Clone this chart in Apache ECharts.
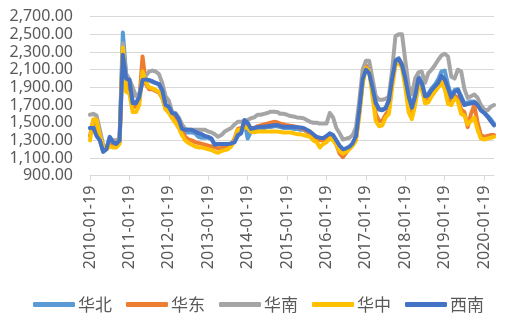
<!DOCTYPE html>
<html>
<head>
<meta charset="utf-8">
<script src="https://cdn.jsdelivr.net/npm/echarts@6/dist/echarts.min.js"></script>
<style>
html,body{margin:0;padding:0;background:#fff;}
#chart{width:512px;height:326px;}
</style>
</head>
<body>
<div id="chart"></div>
<script>
// Series names / legend
const seriesNames = ['华北', '华东', '华南', '华中', '西南'];
const seriesColors = ['#5B9BD5', '#ED7D31', '#A5A5A5', '#FFC000', '#4472C4'];

// Monthly categories 2010-01-19 .. 2020-04-19
const categories = [];
for (let y = 2010; y <= 2020; y++) {
  for (let m = 1; m <= 12; m++) {
    if (y === 2020 && m > 4) break;
    categories.push(y + '-' + String(m).padStart(2, '0') + '-19');
  }
}

// y axis
const yMin = 900, yMax = 2700, yStep = 200;

const huabei = [
  1440, 1460, 1380, 1300, 1180, 1200, 1330, 1290, 1260, 1300, 2520, 2050,
  1980, 1740, 1720, 1790, 1980, 1990, 1980, 1960, 1950, 1930, 1860, 1700,
  1670, 1600, 1590, 1540, 1420, 1390, 1390, 1390, 1380, 1340, 1330, 1330,
  1330, 1310, 1250, 1260, 1250, 1250, 1255, 1260, 1280, 1350, 1380, 1520,
  1320, 1400, 1420, 1430, 1440, 1440, 1450, 1450, 1460, 1460, 1450, 1440,
  1440, 1440, 1430, 1430, 1420, 1420, 1400, 1390, 1360, 1330, 1320, 1310,
  1340, 1370, 1350, 1290, 1230, 1190, 1200, 1220, 1260, 1340, 1640, 1980,
  2110, 2070, 1910, 1730, 1660, 1650, 1670, 1760, 2010, 2210, 2230, 2160,
  2010, 1810, 1680, 1820, 2020, 1970, 1810, 1830, 1890, 1930, 1990, 2080,
  2090, 1930, 1800, 1870, 1880, 1800, 1720, 1730, 1740, 1740, 1710, 1650,
  1620, 1580, 1540, 1490
];
const huadong = [
  1350, 1520, 1500, 1350, 1230, 1220, 1260, 1250, 1240, 1280, 2300, 1900,
  1880, 1680, 1680, 1750, 2250, 1940, 1880, 1880, 1860, 1840, 1780, 1660,
  1640, 1580, 1530, 1470, 1400, 1340, 1310, 1300, 1280, 1270, 1260, 1250,
  1240, 1230, 1220, 1210, 1210, 1220, 1230, 1250, 1320, 1430, 1440, 1460,
  1470, 1440, 1440, 1460, 1470, 1480, 1490, 1500, 1510, 1505, 1490, 1480,
  1470, 1465, 1460, 1450, 1440, 1430, 1400, 1380, 1340, 1320, 1300, 1300,
  1330, 1360, 1350, 1250, 1150, 1110, 1160, 1220, 1260, 1330, 1620, 1960,
  2150, 2110, 1850, 1600, 1520, 1520, 1590, 1640, 1950, 2180, 2220, 2160,
  1950, 1680, 1580, 1760, 1960, 1910, 1760, 1760, 1840, 1880, 1930, 1990,
  1920, 1780, 1740, 1810, 1780, 1650, 1620, 1450, 1600, 1700, 1500, 1360,
  1340, 1350, 1360, 1360
];
const huanan = [
  1590, 1600, 1580, 1420, 1250, 1200, 1300, 1300, 1300, 1320, 2400, 2050,
  1990, 1900, 1800, 1830, 1960, 2030, 2080, 2090, 2080, 2050, 1950, 1800,
  1750, 1620, 1610, 1560, 1480, 1430, 1420, 1420, 1420, 1420, 1420, 1420,
  1400, 1390, 1370, 1340, 1360, 1400, 1420, 1440, 1480, 1510, 1510, 1520,
  1530, 1550, 1560, 1590, 1590, 1600, 1610, 1625, 1625, 1620, 1600, 1600,
  1590, 1575, 1570, 1560, 1555, 1550, 1530, 1510, 1500, 1500, 1490, 1490,
  1490, 1610, 1560, 1440, 1380, 1310, 1320, 1330, 1360, 1450, 1750, 2100,
  2200, 2200, 2000, 1800, 1760, 1760, 1770, 1800, 2100, 2480, 2500, 2500,
  2200, 1920, 1820, 2000, 2070, 2080, 1950, 2060, 2100, 2150, 2210, 2260,
  2280, 2250, 2020, 2000, 2100, 2080, 1880, 1780, 1800, 1820, 1780, 1700,
  1650, 1640, 1680, 1700
];
const huazhong = [
  1300, 1540, 1530, 1350, 1230, 1200, 1230, 1220, 1220, 1260, 2350, 1850,
  1830, 1620, 1620, 1700, 2080, 1960, 1900, 1890, 1870, 1850, 1780, 1650,
  1610, 1550, 1500, 1440, 1360, 1300, 1270, 1250, 1230, 1220, 1220, 1210,
  1200, 1190, 1170, 1160, 1180, 1190, 1200, 1230, 1300, 1420, 1420, 1450,
  1440, 1400, 1390, 1400, 1400, 1400, 1400, 1400, 1400, 1400, 1395, 1390,
  1390, 1390, 1380, 1370, 1370, 1360, 1350, 1340, 1300, 1280, 1220, 1260,
  1280, 1320, 1300, 1250, 1180, 1150, 1170, 1200, 1240, 1300, 1580, 1930,
  2120, 2080, 1800, 1520, 1460, 1470, 1560, 1600, 1900, 2150, 2180, 2120,
  1900, 1620, 1540, 1700, 1920, 1880, 1720, 1730, 1800, 1850, 1900, 1960,
  1880, 1710, 1700, 1780, 1740, 1600, 1580, 1480, 1520, 1560, 1420, 1320,
  1310, 1320, 1330, 1340
];
const xinan = [
  1440, 1440, 1350, 1300, 1170, 1200, 1340, 1280, 1260, 1300, 2270, 2000,
  1985, 1720, 1720, 1790, 1985, 1990, 1980, 1970, 1950, 1940, 1870, 1700,
  1680, 1610, 1600, 1540, 1430, 1420, 1420, 1420, 1400, 1380, 1370, 1350,
  1340, 1320, 1250, 1260, 1260, 1260, 1260, 1265, 1280, 1360, 1380, 1530,
  1500, 1430, 1440, 1450, 1455, 1455, 1460, 1465, 1470, 1475, 1460, 1455,
  1455, 1455, 1450, 1450, 1445, 1440, 1420, 1400, 1370, 1340, 1330, 1325,
  1350, 1380, 1360, 1300, 1240, 1200, 1210, 1230, 1270, 1350, 1650, 1990,
  2100, 2060, 1900, 1720, 1650, 1640, 1660, 1750, 2000, 2200, 2220, 2150,
  2000, 1800, 1670, 1800, 2000, 1950, 1800, 1810, 1870, 1910, 1950, 2030,
  1990, 1890, 1790, 1850, 1870, 1780, 1700, 1710, 1720, 1730, 1700, 1640,
  1610, 1570, 1520, 1470
];
const seriesData = [huabei, huadong, huanan, huazhong, xinan];

const chart = echarts.init(document.getElementById('chart'), null, {renderer: 'canvas'});
const option = {
  animation: false,
  backgroundColor: '#ffffff',
  grid: {left: 90, right: 18, top: 16.7, bottom: 150.3, containLabel: false},
  xAxis: {
    type: 'category',
    data: categories,
    boundaryGap: false,
    axisLine: {lineStyle: {color: '#D9D9D9', width: 1}},
    axisTick: {show: true, interval: 11, length: 5, lineStyle: {color: '#D9D9D9'}},
    axisLabel: {
      interval: 11, rotate: 90, margin: 10,
      fontFamily: 'Noto Sans', fontSize: 16, color: '#595959'
    },
    splitLine: {show: false}
  },
  yAxis: {
    type: 'value',
    min: yMin, max: yMax, interval: yStep,
    axisLine: {show: false},
    axisTick: {show: false},
    axisLabel: {
      margin: 17, fontFamily: 'Noto Sans', fontSize: 16, color: '#595959',
      formatter: v => v.toLocaleString('en-US', {minimumFractionDigits: 2, maximumFractionDigits: 2})
    },
    splitLine: {lineStyle: {color: '#D9D9D9', width: 1}}
  },
  legend: {
    left: 28, top: 291,
    itemWidth: 42, itemHeight: 5, itemGap: 14,
    icon: 'roundRect',
    textStyle: {fontFamily: 'Noto Sans CJK SC', fontSize: 17, color: '#595959', padding: [0, 0, 0, -2]},
    data: seriesNames
  },
  series: seriesNames.map((name, i) => ({
    name: name,
    type: 'line',
    data: seriesData[i],
    symbol: 'none',
    smooth: false,
    lineStyle: {color: seriesColors[i], width: 4, cap: 'round', join: 'round'},
    itemStyle: {color: seriesColors[i]}
  }))
};
chart.setOption(option);
</script>
</body>
</html>
